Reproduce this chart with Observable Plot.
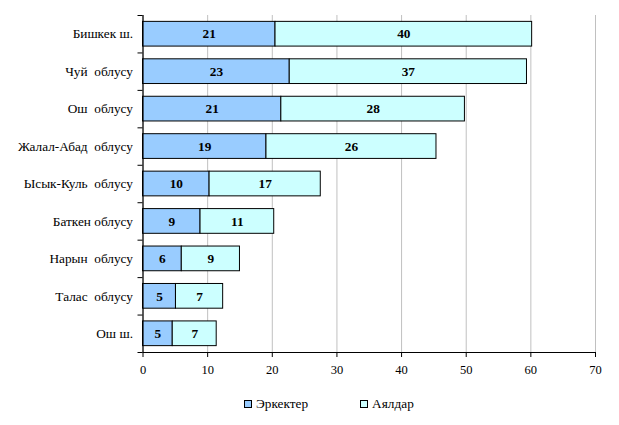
<!DOCTYPE html>
<html>
<head>
<meta charset="utf-8">
<script src="https://cdn.jsdelivr.net/npm/d3@7"></script>
<script src="https://cdn.jsdelivr.net/npm/@observablehq/plot@0.6"></script>
<style>
  body { margin: 0; background: #fff; font-family: "Liberation Serif", serif; }
  #wrap { position: relative; width: 619px; height: 425px; }
  .legend { position: absolute; top: 396px; left: 244px; display: flex; align-items: center; font-size: 13.3px; color: #000; font-family: "Liberation Serif", serif; }
  .legend .item { display: flex; align-items: center; }
  .legend .sw { width: 6px; height: 6px; border: 1px solid #000; margin-right: 4px; }
</style>
</head>
<body>
<div id="wrap"></div>
<script>
const categories = ["Бишкек ш.", "Чуй  облусу", "Ош  облусу", "Жалал-Абад  облусу", "Ысык-Куль  облусу", "Баткен облусу", "Нарын  облусу", "Талас  облусу", "Ош ш."];
const men   = [20.5, 22.7, 21.4, 19.1, 10.3, 8.9, 6.0, 5.1, 4.6];
const women = [39.7, 36.7, 28.4, 26.3, 17.2, 11.4, 9.0, 7.3, 6.8];
const seriesNames = ["Эркектер", "Аялдар"];
const seriesColors = ["#99CCFF", "#CCFFFF"];
const xTicks = [0, 10, 20, 30, 40, 50, 60, 70];

const rows = [];
categories.forEach((c, i) => {
  rows.push({cat: c, i, series: seriesNames[0], value: men[i], x1: 0, x2: men[i]});
  rows.push({cat: c, i, series: seriesNames[1], value: women[i], x1: men[i], x2: men[i] + women[i]});
});
const boundaries = d3.range(categories.length + 1);
const centers = categories.map((_, i) => i + 0.5);
const font = "Liberation Serif";

const chart = Plot.plot({
  width: 619,
  height: 385,
  marginLeft: 142.5,
  marginRight: 24,
  marginTop: 15,
  marginBottom: 33,
  style: {fontFamily: font, fontSize: "13.3px", color: "#000", background: "#fff"},
  x: {domain: [0, 70]},
  y: {domain: [0, categories.length], reverse: true},
  color: {domain: seriesNames, range: seriesColors},
  marks: [
    Plot.gridX(xTicks, {stroke: "#c0c0c0", strokeOpacity: 1, strokeWidth: 1}),
    Plot.rectX(rows, {
      x1: "x1", x2: "x2",
      y1: d => d.i + 0.17, y2: d => d.i + 0.83,
      fill: "series", stroke: "#000", strokeWidth: 1
    }),
    Plot.text(rows, {
      x: d => (d.x1 + d.x2) / 2, y: d => d.i + 0.5,
      text: d => String(Math.round(d.value)),
      fontWeight: "bold", fontSize: 13.3, fill: "#000", fontFamily: font
    }),
    Plot.ruleX([0], {stroke: "#000", strokeWidth: 1.2}),
    Plot.ruleY([categories.length], {stroke: "#000", strokeWidth: 1.2}),
    Plot.axisY({ticks: boundaries, tickFormat: () => "", tickSize: 5, stroke: "#000"}),
    Plot.axisY({ticks: centers, tickFormat: d => categories[Math.floor(d)], tickSize: 0, tickPadding: 10, fontSize: 13.3, fill: "#000", fontFamily: font}),
    Plot.axisX({ticks: xTicks, tickSize: 5, tickPadding: 8, fontSize: 12.5, label: null, stroke: "#000", fill: "#000", fontFamily: font})
  ]
});

const wrap = document.getElementById("wrap");
wrap.appendChild(chart);
const legend = document.createElement("div");
legend.className = "legend";
seriesNames.forEach((n, k) => {
  const it = document.createElement("div");
  it.className = "item";
  it.style.marginRight = k === 0 ? "52px" : "0";
  const sw = document.createElement("span");
  sw.className = "sw";
  sw.style.background = seriesColors[k];
  const t = document.createElement("span");
  t.textContent = n;
  it.appendChild(sw); it.appendChild(t);
  legend.appendChild(it);
});
wrap.appendChild(legend);
</script>
</body>
</html>
